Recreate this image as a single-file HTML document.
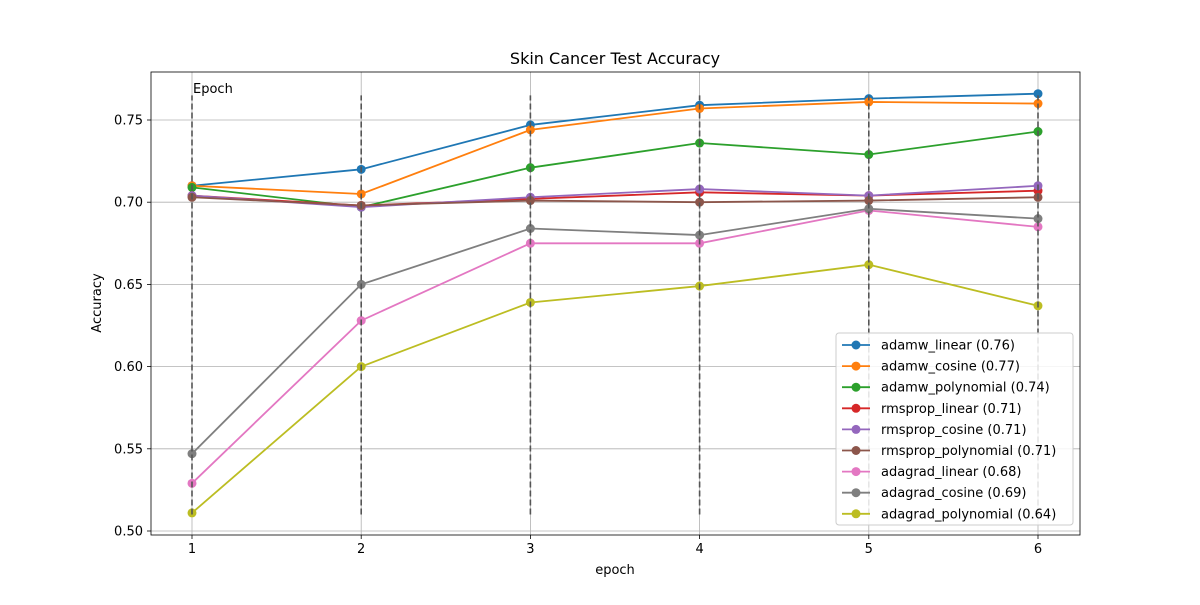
<!DOCTYPE html>
<html><head><meta charset="utf-8"><style>
body{margin:0;background:#fff;font-family:"Liberation Sans","DejaVu Sans",sans-serif}
</style></head><body>
<svg id="chart" width="1200" height="600" xmlns="http://www.w3.org/2000/svg" font-family="DejaVu Sans, Liberation Sans, sans-serif"></svg>
<script>
const epochs=[1,2,3,4,5,6];
const seriesNames=["adamw_linear (0.76)","adamw_cosine (0.77)","adamw_polynomial (0.74)","rmsprop_linear (0.71)","rmsprop_cosine (0.71)","rmsprop_polynomial (0.71)","adagrad_linear (0.68)","adagrad_cosine (0.69)","adagrad_polynomial (0.64)"];
const adamwLinear=[0.710,0.720,0.747,0.759,0.763,0.766];
const adamwCosine=[0.710,0.705,0.744,0.757,0.761,0.760];
const adamwPoly=[0.709,0.697,0.721,0.736,0.729,0.743];
const rmspropLinear=[0.704,0.698,0.702,0.706,0.704,0.707];
const rmspropCosine=[0.704,0.697,0.703,0.708,0.704,0.710];
const rmspropPoly=[0.703,0.698,0.701,0.700,0.701,0.703];
const adagradLinear=[0.529,0.628,0.675,0.675,0.695,0.685];
const adagradCosine=[0.547,0.650,0.684,0.680,0.696,0.690];
const adagradPoly=[0.511,0.600,0.639,0.649,0.662,0.637];
const yTicks=[0.50,0.55,0.60,0.65,0.70,0.75];
const vlineRange=[0.51,0.765];
const colors=["#1f77b4","#ff7f0e","#2ca02c","#d62728","#9467bd","#8c564b","#e377c2","#7f7f7f","#bcbd22"];
const allSeries=[adamwLinear,adamwCosine,adamwPoly,rmspropLinear,rmspropCosine,rmspropPoly,adagradLinear,adagradCosine,adagradPoly];
const L=151,R=1080,T=72,B=535;
const x=e=>192+(e-1)*(1038-192)/5;
const y=v=>531-(v-0.5)*(531-120)/0.25;
const svg=document.getElementById('chart');
const NS="http://www.w3.org/2000/svg";
function mk(tag,at,name,parent){const el=document.createElementNS(NS,tag);for(const k in at)el.setAttribute(k,at[k]);


(parent||svg).appendChild(el);return el;}
mk('rect',{x:L,y:T,width:R-L,height:B-T,fill:'#fff'},'plot-area');
epochs.forEach(e=>{mk('line',{x1:x(e),x2:x(e),y1:T,y2:B,stroke:'#b0b0b0','stroke-width':0.8},'x-gridline');
mk('line',{x1:x(e),x2:x(e),y1:B,y2:B+4,stroke:'#000','stroke-width':0.8},'x-tick');
const t=mk('text',{x:x(e),y:B+18,'text-anchor':'middle','font-size':13},'x-tick-label');t.textContent=e;});
yTicks.forEach(v=>{mk('line',{x1:L,x2:R,y1:y(v),y2:y(v),stroke:'#b0b0b0','stroke-width':0.8},'y-gridline');
mk('line',{x1:L-4,x2:L,y1:y(v),y2:y(v),stroke:'#000','stroke-width':0.8},'y-tick');
const t=mk('text',{x:L-8,y:y(v)+4.5,'text-anchor':'end','font-size':13},'y-tick-label');t.textContent=v.toFixed(2);});
allSeries.forEach((s,i)=>{
mk('polyline',{points:s.map((v,j)=>x(epochs[j])+','+y(v)).join(' '),fill:'none',stroke:colors[i],'stroke-width':1.8},'series-line');
s.forEach((v,j)=>mk('circle',{cx:x(epochs[j]),cy:y(v),r:4.5,fill:colors[i]},'series-point'));});
epochs.forEach(e=>mk('line',{x1:x(e),x2:x(e),y1:y(vlineRange[0]),y2:y(vlineRange[1]),stroke:'#555','stroke-width':1.6,'stroke-dasharray':'6,3'},'epoch-vline'));
let t=mk('text',{x:193,y:93,'font-size':13},'epoch-label');t.textContent='Epoch';
mk('rect',{x:L,y:T,width:R-L,height:B-T,fill:'none',stroke:'#000','stroke-width':0.8},'plot-frame');
t=mk('text',{x:615,y:64,'text-anchor':'middle','font-size':16},'chart-title');t.textContent='Skin Cancer Test Accuracy';
t=mk('text',{x:615,y:574,'text-anchor':'middle','font-size':13},'x-axis-title');t.textContent='epoch';
t=mk('text',{x:101,y:303,'text-anchor':'middle','font-size':13,transform:'rotate(-90 101 303)'},'y-axis-title');t.textContent='Accuracy';
const lg=mk('g',{},'legend');
mk('rect',{x:836,y:333,width:237,height:192,rx:3,fill:'#fff','fill-opacity':0.85,stroke:'#ccc'},'legend-box',lg);
seriesNames.forEach((n,i)=>{const yy=345+i*21.1;
mk('line',{x1:842,x2:870,y1:yy,y2:yy,stroke:colors[i],'stroke-width':1.8},'legend-line',lg);
mk('circle',{cx:856,cy:yy,r:4.5,fill:colors[i]},'legend-marker',lg);
const tt=mk('text',{x:881,y:yy+4.5,'font-size':13},'legend-entry',lg);tt.textContent=n;});
</script>
</body></html>
